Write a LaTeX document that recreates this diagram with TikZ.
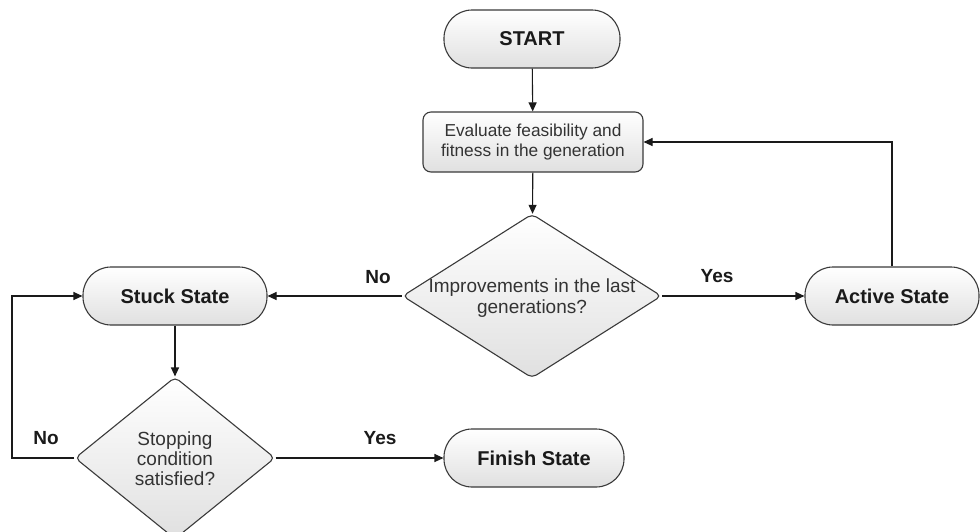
\documentclass[tikz,border=0pt]{standalone}
\usepackage{fontspec}
\setmainfont{Liberation Sans}
\usetikzlibrary{shapes.geometric,arrows.meta}
\definecolor{edgegray}{HTML}{3A3A3A}
\definecolor{fillbottom}{HTML}{E0E0E0}
\definecolor{txtgray}{HTML}{333333}
\definecolor{linecol}{HTML}{1A1A1A}
\tikzset{
  capsule/.style={draw=edgegray, line width=1.1pt, rounded corners=28pt,
    top color=white, bottom color=fillbottom, minimum height=58pt, inner sep=0pt,
    font=\fontsize{20}{24}\selectfont\bfseries, text=linecol},
  procbox/.style={draw=edgegray, line width=1.1pt, rounded corners=8pt,
    top color=white, bottom color=fillbottom, minimum width=220pt,
    minimum height=60pt, inner sep=0pt, align=center,
    font=\fontsize{17.3}{20}\selectfont, text=txtgray},
  decision/.style={diamond, draw=edgegray, line width=1.1pt, rounded corners=5pt,
    top color=white, bottom color=fillbottom, inner sep=0pt},
  bodytext/.style={font=\fontsize{19}{21}\selectfont, text=txtgray, align=center, inner sep=0pt},
  flow/.style={draw=linecol, line width=1.1pt, -{Triangle[length=9pt,width=8pt]}},
  branch/.style={font=\fontsize{19}{22}\selectfont\bfseries, text=linecol, inner sep=0pt}
}
\begin{document}
\begin{tikzpicture}[x=1pt, y=-1pt]
  \useasboundingbox (0,0) rectangle (980,531);

  % states and decisions
  \node[capsule, minimum width=176pt] (start) at (532,39) {START};
  \node[procbox] (eval) at (533,142) {Evaluate feasibility and\\fitness in the generation};
  \node[decision, minimum width=259pt, minimum height=164pt] (dec1) at (532,296) {};
  \node[bodytext] (dec1txt) at (532,298) {Improvements in the last\\generations?};
  \node[capsule, minimum width=184pt] (stuck) at (175,296) {Stuck State};
  \node[capsule, minimum width=174pt] (active) at (892,296) {Active State};
  \node[decision, minimum width=200pt, minimum height=162pt] (dec2) at (175,458) {};
  \node[bodytext, font=\fontsize{19}{20}\selectfont] (dec2txt) at (175,459) {Stopping\\condition\\satisfied?};
  \node[capsule, minimum width=180pt] (finish) at (534,458) {Finish State};

  % connectors
  \coordinate (loopcorner) at (12,458);
  \draw[flow] (start) -- (eval);
  \draw[flow] (eval) -- (dec1);
  \draw[flow] (dec1) -- (stuck);
  \draw[flow] (dec1) -- (active);
  \draw[flow] (active.north) |- (eval.east);
  \draw[flow] (stuck) -- (dec2);
  \draw[flow] (dec2.west) -- (loopcorner) |- (stuck.west);
  \draw[flow] (dec2) -- (finish);

  % branch labels
  \node[branch] (no1) at (378,277) {No};
  \node[branch] (yes1) at (717,276) {Yes};
  \node[branch] (no2) at (46,438) {No};
  \node[branch] (yes2) at (380,438) {Yes};
\end{tikzpicture}
\end{document}
